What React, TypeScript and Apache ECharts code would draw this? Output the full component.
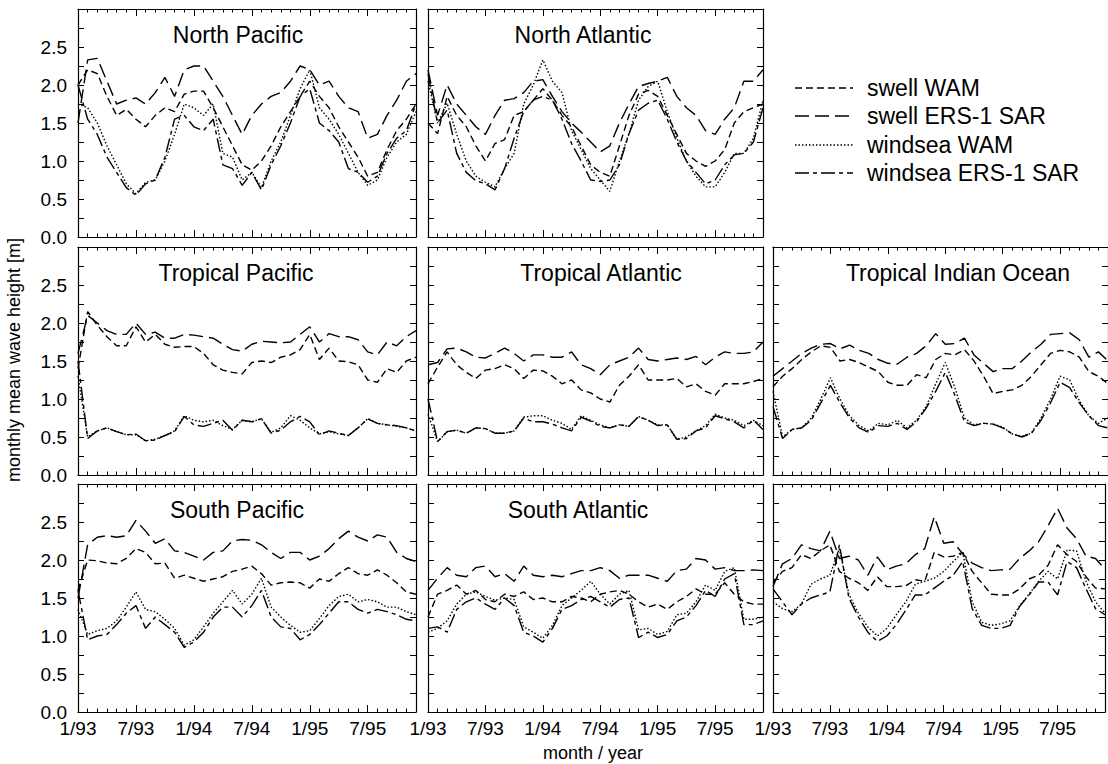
import React, { useEffect, useRef } from 'react';
import * as echarts from 'echarts';

// ---------- axis labels ----------
const X_LABELS = ['1/93', '7/93', '1/94', '7/94', '1/95', '7/95'];
const SERIES_NAMES = ['swell WAM', 'swell ERS-1 SAR', 'windsea WAM', 'windsea ERS-1 SAR'];
const PANEL_TITLES = ['North Pacific', 'North Atlantic', 'Tropical Pacific', 'Tropical Atlantic', 'Tropical Indian Ocean', 'South Pacific', 'South Atlantic', ''];

// ---------- data (monthly, 1/93 .. 12/95) ----------
const NP_SWELL_WAM = [2.00, 2.20, 2.15, 1.85, 1.60, 1.68, 1.55, 1.45, 1.60, 1.70, 1.65, 1.88, 1.92, 1.92, 1.70, 1.45, 1.20, 0.95, 0.88, 1.00, 1.20, 1.45, 1.65, 1.85, 2.05, 1.85, 1.70, 1.45, 1.25, 1.05, 0.80, 0.85, 1.15, 1.40, 1.55, 1.75];
const NP_SWELL_SAR = [1.50, 2.33, 2.35, 2.05, 1.75, 1.80, 1.83, 1.75, 1.90, 2.10, 1.85, 2.20, 2.25, 2.25, 2.05, 1.85, 1.60, 1.35, 1.60, 1.75, 1.85, 1.90, 2.05, 2.25, 2.20, 2.00, 2.05, 1.85, 1.70, 1.65, 1.30, 1.35, 1.60, 1.80, 2.05, 2.15];
const NP_WIND_WAM = [1.75, 1.70, 1.50, 1.20, 0.95, 0.70, 0.57, 0.72, 0.75, 1.00, 1.35, 1.75, 1.70, 1.60, 1.75, 1.10, 1.05, 0.75, 0.85, 0.65, 1.00, 1.25, 1.60, 1.95, 2.20, 1.70, 1.55, 1.35, 1.10, 0.85, 0.68, 0.75, 1.05, 1.25, 1.35, 1.65];
const NP_WIND_SAR = [2.00, 1.55, 1.35, 1.05, 0.85, 0.65, 0.55, 0.70, 0.75, 1.05, 1.55, 1.60, 1.45, 1.40, 1.55, 0.95, 0.90, 0.68, 0.85, 0.62, 0.95, 1.20, 1.50, 1.85, 1.95, 1.50, 1.40, 1.25, 0.90, 0.85, 0.72, 0.80, 1.10, 1.30, 1.40, 1.75];

const NA_SWELL_WAM = [1.50, 1.36, 1.85, 1.60, 1.45, 1.20, 1.00, 1.23, 1.28, 1.60, 1.65, 1.80, 1.95, 1.80, 1.60, 1.45, 1.20, 0.95, 0.85, 0.80, 1.20, 1.60, 1.88, 1.93, 1.85, 1.60, 1.35, 1.10, 1.00, 0.93, 1.00, 1.15, 1.50, 1.65, 1.70, 1.75];
const NA_SWELL_SAR = [2.20, 1.60, 2.00, 1.75, 1.60, 1.45, 1.35, 1.60, 1.80, 1.82, 1.90, 2.05, 2.07, 1.85, 1.65, 1.50, 1.38, 1.25, 1.12, 1.20, 1.50, 1.75, 1.98, 2.02, 2.05, 2.10, 1.85, 1.70, 1.60, 1.40, 1.35, 1.55, 1.70, 2.05, 2.05, 2.20];
const NA_WIND_WAM = [2.05, 1.50, 1.76, 1.35, 1.00, 0.80, 0.72, 0.66, 0.90, 1.10, 1.75, 2.00, 2.33, 2.05, 1.90, 1.40, 1.15, 0.90, 0.75, 0.60, 1.00, 1.36, 1.80, 1.98, 2.05, 1.65, 1.30, 1.00, 0.80, 0.66, 0.66, 0.85, 1.10, 1.10, 1.30, 1.80];
const NA_WIND_SAR = [2.15, 1.50, 1.67, 1.10, 0.85, 0.74, 0.70, 0.62, 0.90, 1.30, 1.65, 1.80, 1.85, 1.80, 1.55, 1.23, 1.00, 0.75, 0.73, 0.75, 0.95, 1.36, 1.67, 1.76, 1.80, 1.55, 1.25, 1.00, 0.85, 0.70, 0.75, 0.95, 1.08, 1.10, 1.25, 1.70];

const TP_SWELL_WAM = [1.40, 2.15, 1.97, 1.82, 1.70, 1.70, 1.95, 1.75, 1.85, 1.72, 1.68, 1.69, 1.69, 1.60, 1.45, 1.38, 1.35, 1.33, 1.48, 1.50, 1.48, 1.55, 1.58, 1.65, 1.85, 1.52, 1.67, 1.50, 1.49, 1.45, 1.25, 1.22, 1.40, 1.35, 1.50, 1.55];
const TP_SWELL_SAR = [1.60, 2.10, 2.00, 1.90, 1.85, 1.85, 2.00, 1.85, 1.88, 1.80, 1.80, 1.85, 1.84, 1.82, 1.80, 1.72, 1.65, 1.63, 1.72, 1.76, 1.75, 1.74, 1.75, 1.85, 1.95, 1.75, 1.86, 1.82, 1.82, 1.78, 1.62, 1.58, 1.75, 1.70, 1.82, 1.90];
const TP_WIND_WAM = [1.30, 0.50, 0.58, 0.62, 0.57, 0.53, 0.53, 0.45, 0.47, 0.52, 0.58, 0.78, 0.72, 0.70, 0.72, 0.65, 0.60, 0.72, 0.70, 0.74, 0.56, 0.62, 0.78, 0.72, 0.62, 0.54, 0.57, 0.54, 0.52, 0.62, 0.74, 0.68, 0.66, 0.64, 0.62, 0.58];
const TP_WIND_SAR = [1.50, 0.48, 0.58, 0.62, 0.57, 0.53, 0.54, 0.45, 0.46, 0.52, 0.57, 0.77, 0.66, 0.64, 0.68, 0.72, 0.59, 0.72, 0.70, 0.74, 0.55, 0.59, 0.70, 0.77, 0.70, 0.53, 0.58, 0.55, 0.52, 0.62, 0.74, 0.68, 0.66, 0.65, 0.62, 0.58];

const TA_SWELL_WAM = [1.20, 1.42, 1.62, 1.45, 1.35, 1.27, 1.38, 1.40, 1.45, 1.40, 1.27, 1.38, 1.37, 1.30, 1.20, 1.25, 1.12, 1.08, 1.00, 0.96, 1.18, 1.30, 1.45, 1.25, 1.25, 1.25, 1.27, 1.16, 1.20, 1.10, 1.05, 1.20, 1.20, 1.20, 1.23, 1.27];
const TA_SWELL_SAR = [1.45, 1.48, 1.66, 1.67, 1.62, 1.55, 1.54, 1.60, 1.67, 1.60, 1.50, 1.58, 1.58, 1.55, 1.55, 1.62, 1.45, 1.40, 1.32, 1.45, 1.50, 1.55, 1.67, 1.52, 1.50, 1.52, 1.54, 1.52, 1.56, 1.45, 1.55, 1.62, 1.60, 1.60, 1.62, 1.75];
const TA_WIND_WAM = [0.80, 0.44, 0.57, 0.59, 0.55, 0.62, 0.61, 0.55, 0.55, 0.58, 0.76, 0.78, 0.78, 0.72, 0.68, 0.60, 0.78, 0.72, 0.66, 0.62, 0.66, 0.64, 0.77, 0.72, 0.66, 0.66, 0.47, 0.50, 0.58, 0.65, 0.80, 0.75, 0.72, 0.65, 0.72, 0.65];
const TA_WIND_SAR = [1.00, 0.44, 0.57, 0.59, 0.55, 0.62, 0.61, 0.55, 0.55, 0.58, 0.75, 0.70, 0.70, 0.67, 0.62, 0.58, 0.76, 0.71, 0.64, 0.62, 0.66, 0.64, 0.77, 0.72, 0.65, 0.66, 0.47, 0.48, 0.58, 0.62, 0.78, 0.74, 0.70, 0.62, 0.72, 0.60];

const TIO_SWELL_WAM = [1.16, 1.30, 1.40, 1.52, 1.62, 1.70, 1.68, 1.50, 1.52, 1.48, 1.42, 1.36, 1.22, 1.18, 1.18, 1.32, 1.28, 1.52, 1.60, 1.58, 1.65, 1.50, 1.30, 1.07, 1.10, 1.12, 1.18, 1.30, 1.45, 1.60, 1.64, 1.62, 1.55, 1.36, 1.30, 1.20];
const TIO_SWELL_SAR = [1.30, 1.40, 1.50, 1.60, 1.67, 1.72, 1.73, 1.66, 1.71, 1.64, 1.60, 1.52, 1.47, 1.46, 1.55, 1.60, 1.70, 1.86, 1.72, 1.73, 1.80, 1.58, 1.47, 1.36, 1.40, 1.40, 1.50, 1.62, 1.72, 1.85, 1.86, 1.87, 1.78, 1.55, 1.62, 1.50];
const TIO_WIND_WAM = [1.10, 0.50, 0.60, 0.62, 0.75, 1.00, 1.28, 1.00, 0.78, 0.65, 0.58, 0.68, 0.66, 0.72, 0.62, 0.72, 0.90, 1.20, 1.48, 1.15, 0.75, 0.66, 0.68, 0.67, 0.63, 0.54, 0.51, 0.55, 0.75, 1.00, 1.30, 1.25, 0.98, 0.78, 0.68, 0.75];
const TIO_WIND_SAR = [0.90, 0.48, 0.60, 0.62, 0.72, 0.95, 1.18, 0.95, 0.75, 0.62, 0.56, 0.65, 0.64, 0.68, 0.60, 0.70, 0.88, 1.10, 1.35, 1.05, 0.70, 0.65, 0.68, 0.67, 0.62, 0.54, 0.50, 0.55, 0.72, 0.95, 1.22, 1.15, 0.95, 0.78, 0.65, 0.62];

const SP_SWELL_WAM = [1.60, 2.00, 1.99, 1.96, 1.95, 2.02, 2.15, 2.10, 1.95, 1.96, 1.76, 1.80, 1.76, 1.72, 1.75, 1.78, 1.85, 1.88, 1.92, 1.82, 1.67, 1.70, 1.71, 1.70, 1.63, 1.75, 1.72, 1.82, 1.90, 1.82, 1.80, 1.87, 1.80, 1.70, 1.58, 1.55];
const SP_SWELL_SAR = [1.50, 2.20, 2.30, 2.32, 2.30, 2.32, 2.52, 2.38, 2.22, 2.28, 2.12, 2.10, 2.05, 2.00, 2.10, 2.12, 2.25, 2.27, 2.26, 2.20, 2.10, 2.02, 2.10, 2.10, 2.00, 2.05, 2.15, 2.28, 2.38, 2.30, 2.25, 2.33, 2.30, 2.10, 2.02, 1.98];
const SP_WIND_WAM = [1.35, 1.02, 1.07, 1.10, 1.20, 1.38, 1.58, 1.35, 1.32, 1.22, 1.10, 0.88, 0.95, 1.12, 1.30, 1.45, 1.60, 1.42, 1.55, 1.76, 1.38, 1.25, 1.14, 1.05, 1.07, 1.23, 1.40, 1.52, 1.55, 1.45, 1.48, 1.45, 1.38, 1.38, 1.32, 1.28];
const SP_WIND_SAR = [1.60, 0.95, 1.00, 1.02, 1.15, 1.30, 1.40, 1.10, 1.25, 1.15, 1.05, 0.85, 0.92, 1.05, 1.25, 1.38, 1.38, 1.25, 1.40, 1.60, 1.25, 1.12, 1.10, 0.95, 1.02, 1.15, 1.30, 1.45, 1.45, 1.35, 1.30, 1.35, 1.32, 1.28, 1.22, 1.20];

const SA_SWELL_WAM = [1.25, 1.55, 1.60, 1.67, 1.55, 1.60, 1.48, 1.45, 1.55, 1.52, 1.58, 1.48, 1.50, 1.45, 1.45, 1.52, 1.50, 1.45, 1.55, 1.58, 1.60, 1.55, 1.45, 1.38, 1.42, 1.35, 1.45, 1.52, 1.62, 1.55, 1.55, 1.70, 1.55, 1.45, 1.42, 1.42];
const SA_SWELL_SAR = [1.60, 1.76, 1.90, 1.80, 1.78, 1.90, 1.92, 1.78, 1.82, 1.72, 1.92, 1.80, 1.78, 1.80, 1.78, 1.82, 1.86, 1.86, 1.90, 1.86, 1.76, 1.80, 1.80, 1.80, 1.76, 1.72, 1.86, 1.88, 2.02, 2.00, 1.88, 1.90, 1.86, 1.86, 1.87, 1.86];
const SA_WIND_WAM = [1.05, 1.10, 1.20, 1.42, 1.55, 1.58, 1.52, 1.47, 1.50, 1.48, 1.12, 1.05, 0.97, 1.14, 1.40, 1.50, 1.60, 1.72, 1.55, 1.42, 1.55, 1.60, 1.08, 1.10, 1.02, 1.06, 1.28, 1.30, 1.45, 1.67, 1.60, 1.85, 1.90, 1.22, 1.22, 1.25];
const SA_WIND_SAR = [1.10, 1.12, 1.05, 1.35, 1.45, 1.50, 1.42, 1.35, 1.50, 1.40, 1.05, 1.00, 0.92, 1.10, 1.35, 1.40, 1.48, 1.52, 1.45, 1.38, 1.48, 1.50, 0.98, 1.05, 0.98, 1.02, 1.20, 1.25, 1.40, 1.60, 1.52, 1.75, 1.82, 1.15, 1.15, 1.20];

const SIO_SWELL_WAM = [1.70, 1.85, 1.90, 2.07, 2.02, 2.12, 2.20, 1.85, 1.76, 1.70, 1.60, 1.78, 1.65, 1.65, 1.66, 1.74, 1.72, 2.10, 2.04, 2.05, 2.10, 1.85, 1.70, 1.55, 1.54, 1.54, 1.62, 1.75, 1.80, 1.93, 2.20, 2.07, 1.98, 1.78, 1.63, 1.62];
const SIO_SWELL_SAR = [1.65, 1.95, 2.02, 2.20, 2.15, 2.12, 2.38, 2.02, 2.05, 2.00, 1.80, 2.04, 1.87, 1.92, 1.95, 2.07, 2.15, 2.57, 2.22, 2.24, 2.08, 1.96, 1.90, 1.86, 1.87, 1.88, 2.02, 2.12, 2.24, 2.45, 2.68, 2.42, 2.28, 2.05, 2.02, 1.88];
const SIO_WIND_WAM = [1.45, 1.36, 1.32, 1.42, 1.68, 1.75, 1.80, 2.15, 1.55, 1.30, 1.12, 1.00, 1.10, 1.28, 1.45, 1.68, 1.72, 1.76, 1.85, 1.98, 2.10, 1.45, 1.18, 1.14, 1.16, 1.20, 1.40, 1.55, 1.72, 1.85, 1.75, 2.13, 2.12, 1.72, 1.45, 1.30];
const SIO_WIND_SAR = [1.62, 1.45, 1.28, 1.42, 1.50, 1.54, 1.58, 2.20, 1.50, 1.25, 1.05, 0.93, 1.00, 1.15, 1.34, 1.54, 1.54, 1.63, 1.72, 1.80, 1.98, 1.36, 1.14, 1.10, 1.10, 1.14, 1.39, 1.54, 1.71, 1.71, 1.54, 1.98, 1.90, 1.62, 1.36, 1.28];

const PANEL_DATA = [
  [NP_SWELL_WAM, NP_SWELL_SAR, NP_WIND_WAM, NP_WIND_SAR],
  [NA_SWELL_WAM, NA_SWELL_SAR, NA_WIND_WAM, NA_WIND_SAR],
  [TP_SWELL_WAM, TP_SWELL_SAR, TP_WIND_WAM, TP_WIND_SAR],
  [TA_SWELL_WAM, TA_SWELL_SAR, TA_WIND_WAM, TA_WIND_SAR],
  [TIO_SWELL_WAM, TIO_SWELL_SAR, TIO_WIND_WAM, TIO_WIND_SAR],
  [SP_SWELL_WAM, SP_SWELL_SAR, SP_WIND_WAM, SP_WIND_SAR],
  [SA_SWELL_WAM, SA_SWELL_SAR, SA_WIND_WAM, SA_WIND_SAR],
  [SIO_SWELL_WAM, SIO_SWELL_SAR, SIO_WIND_WAM, SIO_WIND_SAR],
];

// ---------- layout / style ----------
const FONT = '"Liberation Sans", Arial, Helvetica, sans-serif';
const PANEL_POS = [
  { row: 0, col: 0, tx: 238 },
  { row: 0, col: 1, tx: 583 },
  { row: 1, col: 0, tx: 236 },
  { row: 1, col: 1, tx: 601 },
  { row: 1, col: 2, tx: 958 },
  { row: 2, col: 0, tx: 237 },
  { row: 2, col: 1, tx: 578 },
  { row: 2, col: 2, tx: 940 },
];
const COL_LEFT = [78, 428, 773];
const COL_W = [338, 335, 336];
const ROW_TOP = [9, 247, 484];
const ROW_H = 228;
const DASHES = [[7, 4], [14, 6], [1.5, 2], [14, 4, 4, 4]];
const LEGEND_Y = [88, 116, 145, 173];

function buildOption() {
  const grid: any[] = [];
  const xAxis: any[] = [];
  const yAxis: any[] = [];
  const series: any[] = [];
  const graphic: any[] = [];
  const black = '#000';

  const xFmt = (v: number) => {
    const k = Math.round(v);
    return k % 6 === 0 && k <= 30 ? X_LABELS[k / 6] : '';
  };
  const yFmt = (v: number) => (v > 2.99 ? '' : v.toFixed(1));

  PANEL_POS.forEach((p, g) => {
    grid.push({ left: COL_LEFT[p.col], top: ROW_TOP[p.row], width: COL_W[p.col], height: ROW_H, show: false });
    const xBase = (pos: string, major: boolean, labels: boolean) => ({
      gridIndex: g, type: 'value', min: 0, max: 35, interval: major ? 6 : 1, position: pos,
      axisLine: { show: major, onZero: false, lineStyle: { color: black, width: 1.2 } },
      axisTick: { show: true, inside: true, length: major ? 7 : 3.5, lineStyle: { color: black, width: 1 } },
      axisLabel: { show: labels, formatter: xFmt, color: black, fontSize: 19, fontFamily: FONT, margin: 7 },
      splitLine: { show: false },
    });
    xAxis.push(xBase('bottom', true, p.row === 2));
    xAxis.push(xBase('bottom', false, false));
    xAxis.push(xBase('top', true, false));
    xAxis.push(xBase('top', false, false));
    const yBase = (pos: string, labels: boolean) => ({
      gridIndex: g, type: 'value', min: 0, max: 3, interval: 0.5, position: pos,
      axisLine: { show: true, onZero: false, lineStyle: { color: black, width: 1.2 } },
      axisTick: { show: true, inside: true, length: 6, lineStyle: { color: black, width: 1 } },
      minorTick: { show: true, splitNumber: 2, length: 6, lineStyle: { color: black, width: 1 } },
      axisLabel: { show: labels, formatter: yFmt, color: black, fontSize: 19, fontFamily: FONT, margin: 11 },
      splitLine: { show: false },
    });
    yAxis.push(yBase('left', p.col === 0));
    yAxis.push(yBase('right', false));

    PANEL_DATA[g].forEach((arr, s) => {
      series.push({
        type: 'line', name: SERIES_NAMES[s], xAxisIndex: g * 4, yAxisIndex: g * 2,
        data: arr.map((v, i) => [i, v]), symbol: 'none', silent: true,
        lineStyle: { color: black, width: 1.4, type: DASHES[s] },
      });
    });

    if (PANEL_TITLES[g]) {
      graphic.push({
        type: 'text', x: p.tx, y: ROW_TOP[p.row] + 26,
        style: { text: PANEL_TITLES[g], fontSize: 23, fontFamily: FONT, fill: black, align: 'center', verticalAlign: 'middle', textAlign: 'center', textVerticalAlign: 'middle' },
      });
    }
  });

  SERIES_NAMES.forEach((name, s) => {
    graphic.push({
      type: 'line', shape: { x1: 795, y1: LEGEND_Y[s], x2: 853, y2: LEGEND_Y[s] },
      style: { stroke: black, lineWidth: 1.4, lineDash: DASHES[s] },
    });
    graphic.push({
      type: 'text', x: 867, y: LEGEND_Y[s],
      style: { text: name, fontSize: 23, fontFamily: FONT, fill: black, align: 'left', verticalAlign: 'middle', textAlign: 'left', textVerticalAlign: 'middle' },
    });
  });

  graphic.push({
    type: 'text', x: 14, y: 360, rotation: Math.PI / 2,
    style: { text: 'monthly mean wave height [m]', fontSize: 18, fontFamily: FONT, fill: black, align: 'center', verticalAlign: 'middle', textAlign: 'center', textVerticalAlign: 'middle' },
  });
  graphic.push({
    type: 'text', x: 593, y: 753,
    style: { text: 'month / year', fontSize: 18, fontFamily: FONT, fill: black, align: 'center', verticalAlign: 'middle', textAlign: 'center', textVerticalAlign: 'middle' },
  });

  return { animation: false, backgroundColor: '#fff', grid, xAxis, yAxis, series, graphic };
}

export default function App() {
  const ref = useRef<HTMLDivElement>(null);
  useEffect(() => {
    if (!ref.current) return;
    const chart = echarts.init(ref.current, undefined, { renderer: 'svg' });
    chart.setOption(buildOption() as any);
    return () => chart.dispose();
  }, []);
  return <div ref={ref} style={{ position: 'fixed', left: 0, top: 0, width: 1108, height: 764, background: '#fff' }} />;
}
